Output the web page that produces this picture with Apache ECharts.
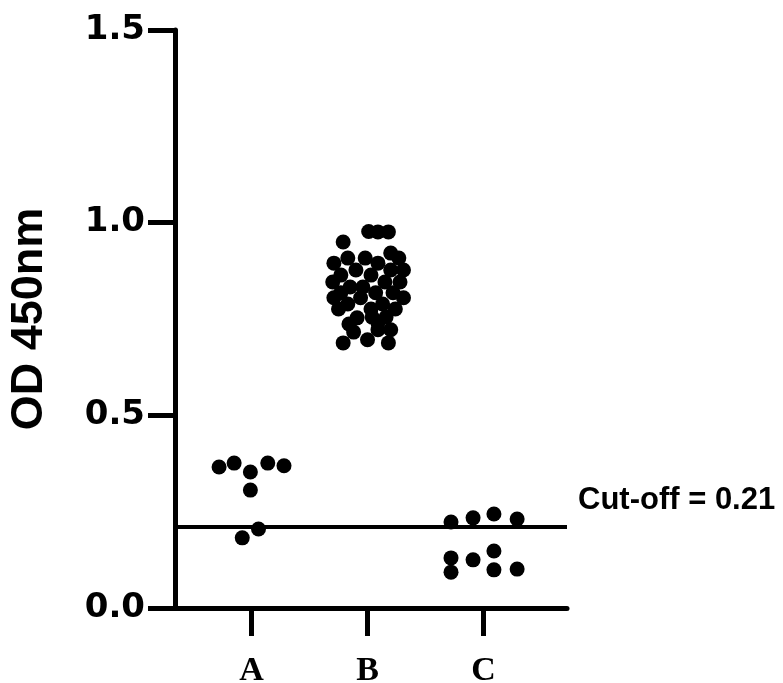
<!DOCTYPE html>
<html>
<head>
<meta charset="utf-8">
<style>
html, body { margin: 0; padding: 0; background: #fff; }
#main { width: 783px; height: 683px; }
</style>
<script src="https://cdn.jsdelivr.net/npm/echarts@6/dist/echarts.min.js"></script>
</head>
<body>
<div id="main"></div>
<script>
const categories = ["A", "B", "C"];
const categoryPos = [1, 2, 3];
const yTicks = [0, 0.5, 1.0, 1.5];
const cutOff = 0.21;

// jittered x positions and OD values
const groupA_x = [0.72, 0.85, 0.99, 1.14, 1.28, 0.99, 1.06, 0.92];
const groupA_y = [0.366, 0.376, 0.353, 0.376, 0.369, 0.306, 0.205, 0.182];

const groupB_x = [2.01, 2.09, 2.18, 1.79, 2.20, 1.83, 1.98, 2.27, 1.71, 2.09,
	1.90, 2.20, 2.31, 1.77, 2.03, 1.70, 2.15, 2.28, 1.85, 1.96,
	1.77, 2.07, 2.22, 1.71, 1.94, 2.31, 1.83, 2.13, 1.75, 2.03,
	2.24, 1.91, 2.04, 2.16, 1.84, 2.09, 1.88, 2.09, 2.20, 1.79,
	2.00, 2.18];
const groupB_y = [0.977, 0.976, 0.976, 0.950, 0.921, 0.908, 0.908, 0.908, 0.895, 0.895,
	0.877, 0.877, 0.877, 0.864, 0.864, 0.846, 0.846, 0.846, 0.833, 0.833,
	0.818, 0.818, 0.818, 0.805, 0.805, 0.805, 0.789, 0.789, 0.776, 0.776,
	0.776, 0.753, 0.755, 0.755, 0.737, 0.740, 0.716, 0.722, 0.722, 0.688,
	0.696, 0.688];

const groupC_x = [2.72, 2.91, 3.09, 3.29, 2.72, 2.72, 2.91, 3.09, 3.09, 3.29];
const groupC_y = [0.223, 0.234, 0.244, 0.231, 0.130, 0.093, 0.125, 0.148, 0.099, 0.101];

function pairs(xs, ys) {
	return xs.map((x, i) => [x, ys[i]]);
}

const chart = echarts.init(document.getElementById("main"), null, { renderer: "canvas" });

const dotStyle = { color: "#000", opacity: 1 };

const option = {
	animation: false,
	backgroundColor: "#fff",
	grid: { left: 175, right: 216, top: 30, bottom: 75, containLabel: false, outerBoundsMode: "none" },
	xAxis: {
		type: "value",
		min: 0.34,
		max: 3.72,
		splitLine: { show: false },
		axisLine: { show: true, lineStyle: { color: "#000", width: 5 } },
		axisTick: { show: true, customValues: categoryPos, length: 28, lineStyle: { color: "#000", width: 5 } },
		axisLabel: {
			customValues: categoryPos,
			formatter: (v) => categories[Math.round(v) - 1] || "",
			margin: 46,
			color: "#000",
			fontFamily: "Liberation Serif",
			fontWeight: "bold",
			fontSize: 34,
		},
	},
	yAxis: {
		type: "value",
		min: 0,
		max: 1.5,
		interval: 0.5,
		name: "OD 450nm",
		nameLocation: "middle",
		nameGap: 123,
		nameTextStyle: { color: "#000", fontFamily: "Liberation Sans", fontWeight: "bold", fontSize: 45 },
		splitLine: { show: false },
		axisLine: { show: true, lineStyle: { color: "#000", width: 5 } },
		axisTick: { show: true, length: 27, lineStyle: { color: "#000", width: 5 } },
		axisLabel: {
			formatter: (v) => v.toFixed(1),
			margin: 30,
			color: "#000",
			fontFamily: "DejaVu Sans",
			fontWeight: "bold",
			fontSize: 34,
		},
	},
	series: [
		{
			name: "A",
			type: "scatter",
			symbol: "circle",
			symbolSize: 15,
			itemStyle: dotStyle,
			data: pairs(groupA_x, groupA_y),
			markLine: {
				silent: true,
				symbol: "none",
				lineStyle: { color: "#000", width: 4, type: "solid" },
				label: {
					show: true,
					position: "end",
					formatter: "Cut-off = " + cutOff,
					color: "#000",
					fontFamily: "Liberation Sans",
					fontWeight: "bold",
					fontSize: 31,
					offset: [6, -27],
				},
				data: [{ yAxis: cutOff }],
			},
		},
		{
			name: "B",
			type: "scatter",
			symbol: "circle",
			symbolSize: 15,
			itemStyle: dotStyle,
			data: pairs(groupB_x, groupB_y),
		},
		{
			name: "C",
			type: "scatter",
			symbol: "circle",
			symbolSize: 15,
			itemStyle: dotStyle,
			data: pairs(groupC_x, groupC_y),
		},
	],
};

chart.setOption(option);
</script>
</body>
</html>
